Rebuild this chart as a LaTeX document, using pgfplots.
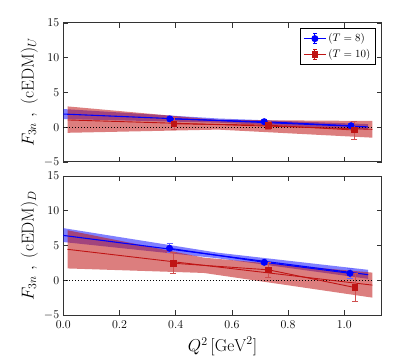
\documentclass[12pt,border=0pt]{standalone}
\usepackage{pgfplots}
\pgfplotsset{compat=1.18}

\definecolor{fitblue}{rgb}{0,0,1}
\definecolor{fitred}{rgb}{0.75,0.08,0.08}

\pgfplotsset{
  panel/.style={
    scale only axis,
    width=318.4bp, height=139bp,
    xmin=0, xmax=1.133, ymin=-5, ymax=15,
    xtick={0,0.2,...,1.0}, ytick={-5,0,5,10,15},
    tick align=inside, tick pos=both,
    major tick length=5bp,
    axis line style={black!80, line width=1pt},
    every tick/.style={black!80, line width=0.6pt},
    xticklabel style={yshift=-2bp, /pgf/number format/fixed, /pgf/number format/fixed zerofill, /pgf/number format/precision=1},
    yticklabel style={/pgf/number format/fixed},
    label style={font=\Large},
    ylabel style={yshift=-2bp},
    clip=true,
  },
  eb/.style={error bars/.cd, y dir=both, y explicit,
    error mark options={rotate=90, mark size=3bp, line width=0.8pt}},
  errleg/.style={legend image code/.code={
    \draw[##1] (0cm,0cm) -- (0.78cm,0cm);
    \draw[##1, mark=none] (0.39cm,-0.17cm) -- (0.39cm,0.17cm);
    \draw[##1, mark=none] (0.33cm,0.17cm) -- (0.45cm,0.17cm);
    \draw[##1, mark=none] (0.33cm,-0.17cm) -- (0.45cm,-0.17cm);
    \draw[##1] plot coordinates {(0.39cm,0cm)};
  }},
}

\begin{document}
\begin{tikzpicture}
\useasboundingbox (0,0) rectangle (407bp,356bp);

% ---- top panel: U ----
\begin{axis}[panel, at={(63.3bp,194bp)}, anchor=south west,
    xticklabels={},
    ylabel={$F_{3n}\ ,\ (\mathrm{cEDM})_U$},
    legend style={at={(0.981,0.962)}, anchor=north east, draw=black, line width=0.8pt,
      font=\small, inner sep=3pt, row sep=2pt},
    legend cell align=left]
  % bands
  \addplot[draw=none, fill=fitblue, fill opacity=0.5, forget plot] coordinates {
    (0,1.18) (0.55,0.66) (1.085,-0.35) (1.085,0.45) (0.55,1.26) (0,2.62)} -- cycle;
  \addplot[draw=none, fill=fitred, fill opacity=0.55, forget plot] coordinates {
    (0.015,-0.8) (0.55,-0.34) (1.1,-1.5) (1.1,0.9) (0.55,1.06) (0.015,3.0)} -- cycle;
  % zero line
  \addplot[black, line width=1pt, dash pattern=on 1pt off 2pt, forget plot] coordinates {(0,0) (1.1,0)};
  % fit lines
  \addplot[fitblue, line width=1.1pt, forget plot] coordinates {(0,1.9) (1.085,0.05)};
  \addplot[fitred, line width=0.9pt, forget plot] coordinates {(0.015,1.05) (1.1,-0.3)};
  % data
  \addplot[fitblue, line width=1pt, mark=*, mark size=3bp, errleg, eb,
    error bar style={line width=0.8pt, fitblue!60}] coordinates {
    (0.379,1.2) +- (0,0.3)
    (0.715,0.8) +- (0,0.3)
    (1.024,0.22) +- (0,0.3)};
  \addlegendentry{$(T=8)$}
  \addplot[fitred, line width=0.9pt, mark=square*, mark size=2.8bp, errleg, eb,
    error bar style={line width=0.8pt, fitred!75}] coordinates {
    (0.394,0.5) +- (0,0.85)
    (0.73,0.3) +- (0,0.6)
    (1.036,-0.4) +- (0,1.3)};
  \addlegendentry{$(T=10)$}
\end{axis}

% ---- bottom panel: D ----
\begin{axis}[panel, at={(63.3bp,41bp)}, anchor=south west,
    xlabel={$Q^2\,[\mathrm{GeV}^2]$},
    ylabel={$F_{3n}\ ,\ (\mathrm{cEDM})_D$}]
  \addplot[draw=none, fill=fitblue, fill opacity=0.5] coordinates {
    (0,5.5) (0.55,3.16) (1.085,0.2) (1.085,1.5) (0.55,3.96) (0,7.5)} -- cycle;
  \addplot[draw=none, fill=fitred, fill opacity=0.55] coordinates {
    (0.015,1.7) (0.5,1.05) (1.1,-2.5) (1.1,1.1) (0.5,3.25) (0.015,7.2)} -- cycle;
  \addplot[black, line width=1pt, dash pattern=on 1pt off 2pt] coordinates {(0,0) (1.1,0)};
  \addplot[fitblue, line width=1.1pt] coordinates {(0,6.45) (1.085,0.8)};
  \addplot[fitred, line width=0.9pt] coordinates {(0.015,4.45) (1.1,-0.7)};
  \addplot[fitblue, line width=1pt, mark=*, mark size=3bp, eb,
    error bar style={line width=0.8pt, fitblue!60}] coordinates {
    (0.378,4.6) +- (0,0.65)
    (0.715,2.58) +- (0,0.3)
    (1.02,1.0) +- (0,0.7)};
  \addplot[fitred, line width=0.9pt, mark=square*, mark size=2.8bp, eb,
    error bar style={line width=0.8pt, fitred!75}] coordinates {
    (0.391,2.45) +- (0,1.5)
    (0.73,1.5) +- (0,1.1)
    (1.038,-1.05) +- (0,2.0)};
\end{axis}
\end{tikzpicture}
\end{document}
